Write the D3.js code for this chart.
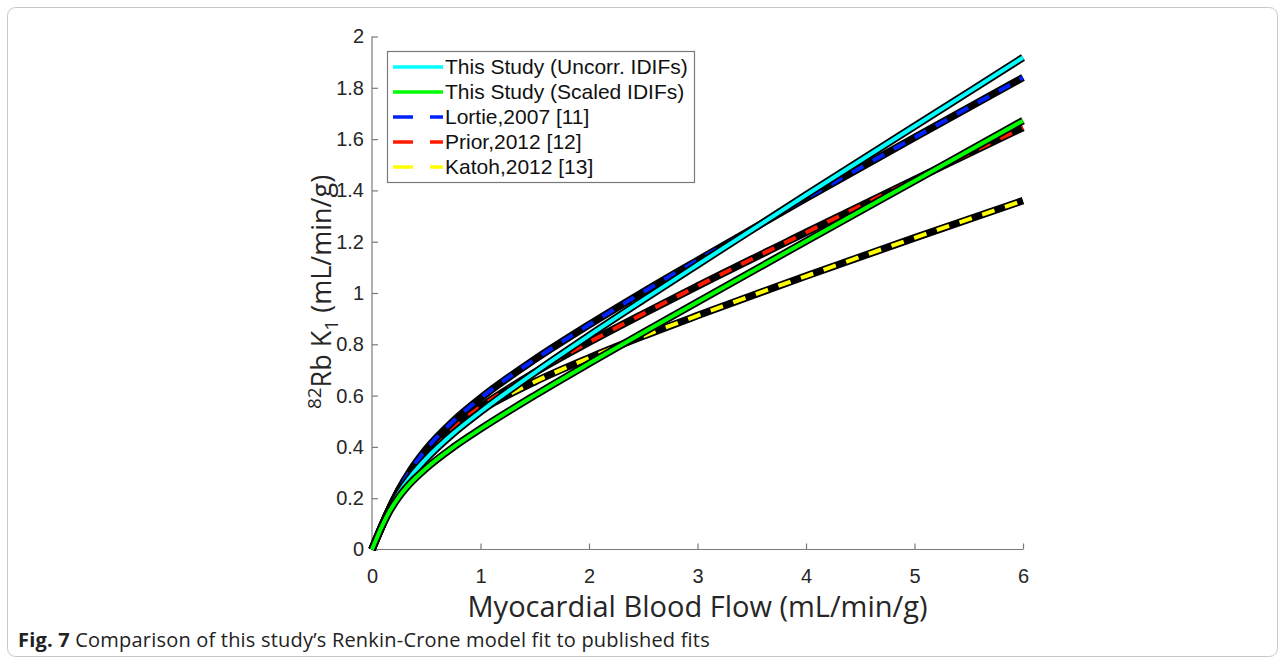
<!DOCTYPE html>
<html>
<head>
<meta charset="utf-8">
<script src="https://cdn.jsdelivr.net/npm/d3@7"></script>
<style>
  body { margin: 0; background: #fff; }
  svg { display: block; font-family: "Open Sans", "DejaVu Sans", sans-serif; }
</style>
</head>
<body>
<svg id="SVG_CONTAINER" width="1281" height="664"></svg>
<script>
// blood flow samples (mL/min/g)
const flow = [0, 0.1, 0.15, 0.25, 0.35, 0.5, 0.75, 1, 1.5, 2, 2.5, 3, 4, 5, 6];

// K1 values for each fit
const uncorrK1 = [0, 0.099, 0.145, 0.221, 0.281, 0.354, 0.453, 0.537, 0.690, 0.834, 0.973, 1.110, 1.382, 1.650, 1.918];
const scaledK1 = [0, 0.098, 0.140, 0.206, 0.257, 0.317, 0.399, 0.470, 0.601, 0.725, 0.846, 0.965, 1.202, 1.437, 1.672];
const lortieK1 = [0, 0.100, 0.148, 0.234, 0.305, 0.391, 0.501, 0.590, 0.741, 0.876, 1.004, 1.127, 1.369, 1.606, 1.840];
const priorK1  = [0, 0.100, 0.148, 0.231, 0.298, 0.377, 0.477, 0.556, 0.690, 0.808, 0.919, 1.027, 1.236, 1.442, 1.645];
const katohK1  = [0, 0.100, 0.148, 0.233, 0.301, 0.379, 0.473, 0.543, 0.654, 0.747, 0.832, 0.912, 1.066, 1.215, 1.360];

const seriesNames  = ["This Study (Uncorr. IDIFs)", "This Study (Scaled IDIFs)", "Lortie,2007 [11]", "Prior,2012 [12]", "Katoh,2012 [13]"];
const seriesColors = ["#00ffff", "#00ff00", "#0022ff", "#ff1a00", "#ffff00"];
const seriesValues = [uncorrK1, scaledK1, lortieK1, priorK1, katohK1];
const seriesDashed = [false, false, true, true, true];

const xTicks = [0, 1, 2, 3, 4, 5, 6];
const yTicks = [0, 0.2, 0.4, 0.6, 0.8, 1, 1.2, 1.4, 1.6, 1.8, 2];

const MARGIN = { LEFT: 372, RIGHT: 1023, TOP: 36.5, BOTTOM: 549.5 };

let svg = d3.select("#SVG_CONTAINER");

// outer figure frame
svg.append("rect")
    .attr("x", 7.5).attr("y", 7.5)
    .attr("width", 1270).attr("height", 649)
    .attr("rx", 8)
    .style("fill", "none")
    .style("stroke", "#c8c8c8")
    .style("stroke-width", 1);

let xScale = d3.scaleLinear().domain([0, 6]).range([MARGIN.LEFT, MARGIN.RIGHT]);
let yScale = d3.scaleLinear().domain([0, 2]).range([MARGIN.BOTTOM, MARGIN.TOP]);

// axes, ticks pointing inward like matlab
let xAxis = d3.axisTop(xScale).tickValues(xTicks).tickSize(6).tickFormat(d3.format("d"));
let gx = svg.append("g")
    .attr("transform", "translate(0," + MARGIN.BOTTOM + ")")
    .call(xAxis);
gx.select(".domain").attr("d", "M" + MARGIN.LEFT + ",0H" + MARGIN.RIGHT);
gx.selectAll(".tick text")
    .attr("y", 33)
    .style("font-size", "20px")
    .style("fill", "#262626");

let yAxis = d3.axisRight(yScale).tickValues(yTicks).tickSize(6).tickFormat(d => d3.format("")(d));
let gy = svg.append("g")
    .attr("transform", "translate(" + MARGIN.LEFT + ",0)")
    .call(yAxis);
gy.select(".domain").attr("d", "M0," + MARGIN.BOTTOM + "V" + MARGIN.TOP);
gy.selectAll(".tick text")
    .attr("x", -8)
    .attr("text-anchor", "end")
    .style("font-size", "20px")
    .style("fill", "#262626");

svg.selectAll(".domain, .tick line")
    .style("stroke", "#7a7a7a")
    .style("stroke-width", 1.2);

// axis labels
svg.append("text")
    .attr("x", (MARGIN.LEFT + MARGIN.RIGHT) / 2)
    .attr("y", 617)
    .attr("text-anchor", "middle")
    .style("font-size", "29px")
    .style("fill", "#262626")
    .text("Myocardial Blood Flow (mL/min/g)");

let yLab = svg.append("text")
    .attr("transform", "translate(331,292) rotate(-90)")
    .attr("text-anchor", "middle")
    .style("font-size", "27px")
    .style("fill", "#262626");
yLab.append("tspan").attr("dy", "-10").style("font-size", "19px").text("82");
yLab.append("tspan").attr("dy", "10").text("Rb K");
yLab.append("tspan").attr("dy", "7").style("font-size", "19px").text("1");
yLab.append("tspan").attr("dy", "-7").text(" (mL/min/g)");

// curves: black casing under each coloured line
let line = d3.line()
    .x((d, i) => xScale(flow[i]))
    .y(d => yScale(d))
    .curve(d3.curveMonotoneX);

let drawOrder = [4, 3, 2, 0, 1];
drawOrder.forEach(function (k) {
    svg.append("path")
        .attr("d", line(seriesValues[k]))
        .style("fill", "none")
        .style("stroke", "#000")
        .style("stroke-width", 7.5);
    svg.append("path")
        .attr("d", line(seriesValues[k]))
        .style("fill", "none")
        .style("stroke", seriesColors[k])
        .style("stroke-width", 4)
        .style("stroke-dasharray", seriesDashed[k] ? "13,11" : null);
});

// legend
let legend = svg.append("g");
legend.append("rect")
    .attr("x", 387.5).attr("y", 51.5)
    .attr("width", 307).attr("height", 131)
    .style("fill", "#fff")
    .style("stroke", "#7a7a7a")
    .style("stroke-width", 1.2);

for (let i = 0; i < seriesNames.length; i++) {
    let yRow = 67 + i * 25;
    legend.append("line")
        .attr("x1", 393).attr("x2", 443)
        .attr("y1", yRow).attr("y2", yRow)
        .style("stroke", seriesColors[i])
        .style("stroke-width", 3.5)
        .style("stroke-dasharray", seriesDashed[i] ? "20,17" : null);
    legend.append("text")
        .attr("x", 445)
        .attr("y", yRow + 7)
        .style("font-family", "'Liberation Sans', Arial, sans-serif")
        .style("font-size", "21px")
        .style("fill", "#111")
        .text(seriesNames[i]);
}

// caption
let cap = svg.append("text")
    .attr("x", 18).attr("y", 647)
    .style("font-size", "20px")
    .style("letter-spacing", "0.2px")
    .style("fill", "#222");
cap.append("tspan").style("font-weight", "bold").text("Fig. 7");
cap.append("tspan").text(" Comparison of this study\u2019s Renkin-Crone model fit to published fits");
</script>
</body>
</html>
